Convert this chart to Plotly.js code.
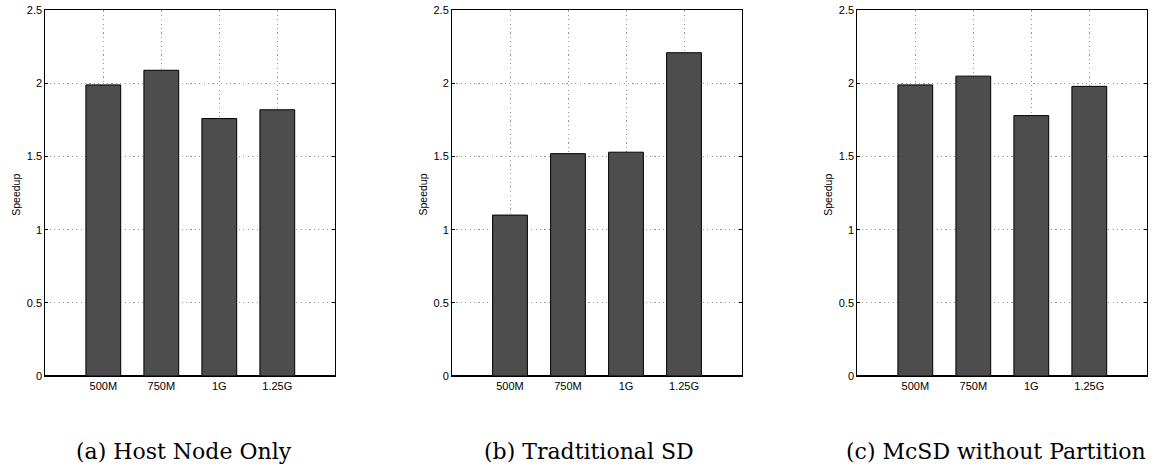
<!DOCTYPE html>
<html><head><meta charset="utf-8">
<script src="https://cdn.plot.ly/plotly-3.0.1.min.js"></script>
<style>html,body{margin:0;padding:0;background:#fff}#chart{width:1166px;height:473px}</style>
</head><body><div id="chart"></div>
<script>
const categories = ["500M", "750M", "1G", "1.25G"];
const hostNodeOnly = [1.99, 2.09, 1.76, 1.82];
const traditionalSD = [1.10, 1.52, 1.53, 2.21];
const mcsdNoPartition = [1.99, 2.05, 1.78, 1.98];
const captions = ["(a) Host Node Only", "(b) Tradtitional SD", "(c) McSD without Partition"];
const yTicks = [0, 0.5, 1, 1.5, 2, 2.5];
const yTickText = ["0", "0.5", "1", "1.5", "2", "2.5"];

const W = 1166, H = 473;
const panelLeft = [45.3, 452, 857.3];
const panelW = 290;
const plotTop = 10.3, plotBottom = 376;
const series = [hostNodeOnly, traditionalSD, mcsdNoPartition];
const sans = 'Liberation Sans, Arial, sans-serif';

const data = series.map((vals, i) => ({
  type: 'bar',
  x: categories,
  y: vals,
  xaxis: i === 0 ? 'x' : 'x' + (i + 1),
  yaxis: i === 0 ? 'y' : 'y' + (i + 1),
  width: 0.6,
  marker: {color: '#4d4d4d', line: {color: '#000', width: 1}},
  hoverinfo: 'skip',
  showlegend: false
}));

const layout = {
  width: W, height: H,
  margin: {l: 0, r: 0, t: 0, b: 0},
  paper_bgcolor: '#fff', plot_bgcolor: '#fff',
  font: {family: sans, size: 11, color: '#000'},
  annotations: [],
  showlegend: false
};

const gridDash = '1.2px,3.2px';
for (let i = 0; i < 3; i++) {
  const sx = i === 0 ? '' : String(i + 1);
  layout['xaxis' + sx] = {
    domain: [panelLeft[i] / W, (panelLeft[i] + panelW) / W],
    anchor: 'y' + sx,
    type: 'category',
    range: [-1, 4],
    showline: true, linecolor: '#000', linewidth: 1, mirror: true,
    ticks: '', showgrid: true, gridcolor: '#9a9a9a', griddash: gridDash, gridwidth: 1,
    tickfont: {size: 11, family: sans, color: '#000'},
    zeroline: false, fixedrange: true
  };
  layout['yaxis' + sx] = {
    domain: [1 - plotBottom / H, 1 - plotTop / H],
    anchor: 'x' + sx,
    range: [0, 2.5],
    tickvals: yTicks, ticktext: yTickText,
    showline: true, linecolor: '#000', linewidth: 1, mirror: 'ticks',
    ticks: 'inside', ticklen: 3, tickcolor: '#000',
    showgrid: true, gridcolor: '#9a9a9a', griddash: gridDash, gridwidth: 1,
    tickfont: {size: 11, family: sans, color: '#000'},
    zeroline: true, zerolinecolor: '#000', zerolinewidth: 2, fixedrange: true
  };
  layout.annotations.push({
    xref: 'paper', yref: 'paper',
    x: (panelLeft[i] - 29.5) / W, y: 1 - 195 / H,
    text: 'Speedup', textangle: -90, showarrow: false,
    font: {size: 10.5, family: sans, color: '#000'},
    xanchor: 'center', yanchor: 'middle'
  });
}
const capX = [184, 589, 996];
captions.forEach((c, i) => layout.annotations.push({
  xref: 'paper', yref: 'paper', x: capX[i] / W, y: 1 - 451 / H,
  text: c, showarrow: false, xanchor: 'center', yanchor: 'middle',
  font: {size: 22, family: 'DejaVu Serif, Liberation Serif, serif', color: '#000'}
}));

Plotly.newPlot('chart', data, layout, {staticPlot: true, displayModeBar: false});
</script></body></html>
